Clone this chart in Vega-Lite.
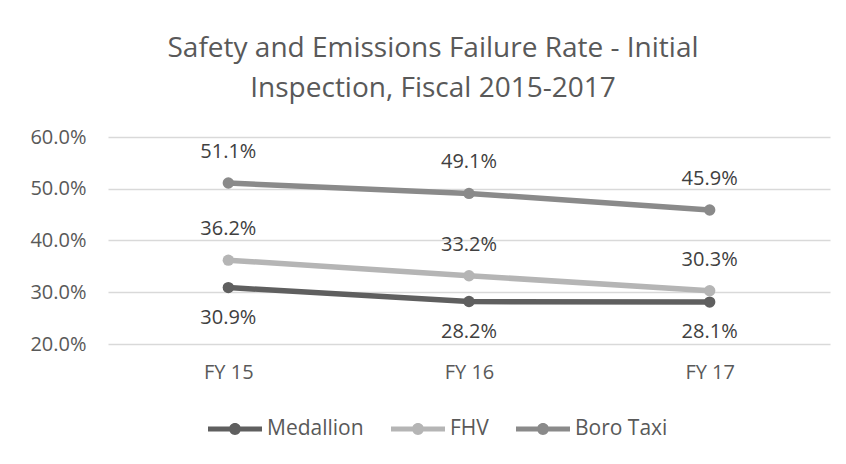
{
  "$schema": "https://vega.github.io/schema/vega-lite/v6.json",
  "width": 722,
  "height": 207,
  "autosize": {"type": "none"},
  "padding": {"left": 108, "top": 137, "right": 16, "bottom": 120},
  "background": "#ffffff",
  "config": {
    "font": "Open Sans",
    "view": {"stroke": null}
  },
  "title": {
    "text": ["Safety and Emissions Failure Rate - Initial", "Inspection, Fiscal 2015-2017"],
    "font": "Open Sans",
    "fontSize": 28,
    "fontWeight": "normal",
    "color": "#595959",
    "lineHeight": 40,
    "anchor": "middle",
    "dx": -36,
    "offset": 24
  },
  "data": {
    "values": [
      {"year": "FY 15", "series": "Medallion", "rate": 0.309},
      {"year": "FY 16", "series": "Medallion", "rate": 0.282},
      {"year": "FY 17", "series": "Medallion", "rate": 0.281},
      {"year": "FY 15", "series": "FHV", "rate": 0.362},
      {"year": "FY 16", "series": "FHV", "rate": 0.332},
      {"year": "FY 17", "series": "FHV", "rate": 0.303},
      {"year": "FY 15", "series": "Boro Taxi", "rate": 0.511},
      {"year": "FY 16", "series": "Boro Taxi", "rate": 0.491},
      {"year": "FY 17", "series": "Boro Taxi", "rate": 0.459}
    ]
  },
  "encoding": {
    "x": {
      "field": "year",
      "type": "ordinal",
      "scale": {"paddingInner": 0, "paddingOuter": 0},
      "axis": {
        "title": null,
        "labelAngle": 0,
        "labelFontSize": 20,
        "labelColor": "#595959",
        "ticks": false,
        "domain": false,
        "labelPadding": 18
      }
    },
    "y": {
      "field": "rate",
      "type": "quantitative",
      "scale": {"domain": [0.2, 0.6], "nice": false, "zero": false},
      "axis": {
        "title": null,
        "format": ".1%",
        "values": [0.2, 0.3, 0.4, 0.5, 0.6],
        "labelFontSize": 20,
        "labelColor": "#595959",
        "ticks": false,
        "domain": false,
        "labelPadding": 22,
        "gridColor": "#d9d9d9",
        "gridWidth": 1.5
      }
    }
  },
  "layer": [
    {
      "mark": {"type": "line", "strokeWidth": 5.5, "strokeCap": "round", "strokeJoin": "round"},
      "encoding": {
        "color": {
          "field": "series",
          "type": "nominal",
          "scale": {"domain": ["Medallion", "FHV", "Boro Taxi"], "range": ["#5f5f5f", "#b5b5b5", "#8a8a8a"]},
          "legend": {
            "title": null,
            "orient": "none",
            "direction": "horizontal",
            "legendX": 100,
            "legendY": 265,
            "symbolType": "M-1,-0.09L1,-0.09L1,0.09L-1,0.09Z M0.22,0A0.22,0.22,0,1,1,-0.22,0A0.22,0.22,0,1,1,0.22,0Z",
            "symbolSize": 2916,
            "symbolStrokeWidth": 0,
            "labelFontSize": 21,
            "labelColor": "#595959",
            "labelOffset": 5,
            "columnPadding": 27,
            "labelLimit": 300,
            "encode": {
              "symbols": {
                "update": {
                  "fill": {"scale": "color", "field": "value"},
                  "stroke": {"value": "transparent"},
                  "opacity": {"value": 1}
                }
              }
            }
          }
        }
      }
    },
    {
      "mark": {"type": "point", "filled": true, "size": 130, "opacity": 1},
      "encoding": {
        "color": {"field": "series", "type": "nominal"}
      }
    },
    {
      "transform": [{"filter": "datum.series !== 'Medallion'"}],
      "mark": {"type": "text", "dy": -31, "fontSize": 20, "color": "#404040"},
      "encoding": {
        "text": {"field": "rate", "type": "quantitative", "format": ".1%"}
      }
    },
    {
      "transform": [{"filter": "datum.series === 'Medallion'"}],
      "mark": {"type": "text", "dy": 30, "fontSize": 20, "color": "#404040"},
      "encoding": {
        "text": {"field": "rate", "type": "quantitative", "format": ".1%"}
      }
    }
  ]
}
